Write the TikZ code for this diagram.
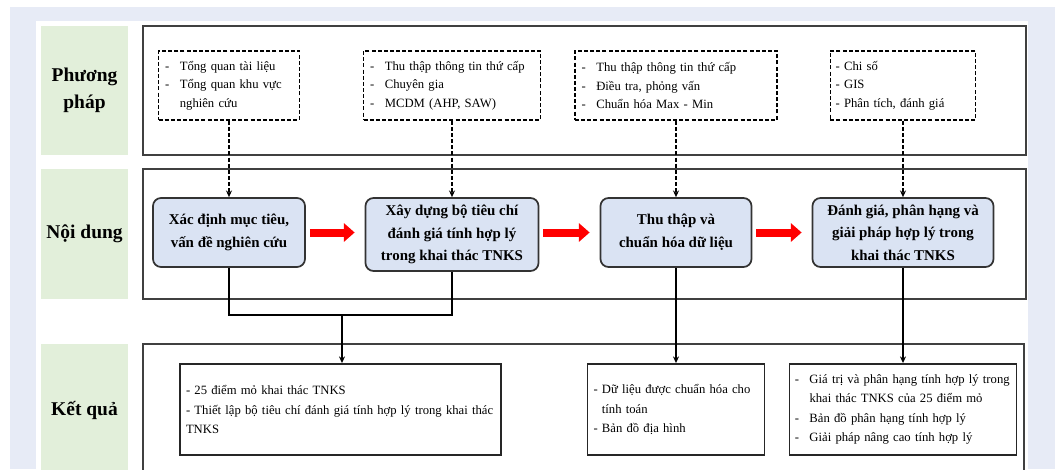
\documentclass[tikz,border=0pt]{standalone}
\usepackage{fontspec}
\setmainfont{Liberation Serif}
\usetikzlibrary{arrows.meta}
\definecolor{pagebg}{HTML}{E7EBF6}
\definecolor{labgreen}{HTML}{E2EFDA}
\definecolor{taskblue}{HTML}{DAE3F3}
\newcommand{\ditem}[1]{\mbox{\makebox[11pt][l]{-}#1}}
\newcommand{\dcont}[1]{\mbox{\hspace*{11pt}#1}}

\begin{document}
\begin{tikzpicture}[x=0.75pt, y=-0.75pt, >={Stealth[length=5pt,width=4.5pt]}, line join=miter,
  lab/.style={fill=labgreen, minimum width=65.25pt, align=center, font=\bfseries\fontsize{14.6}{20}\selectfont},
  row/.style={draw=black!75, line width=0.9pt},
  methbox/.style={draw, dash pattern=on 3pt off 1.6pt, line width=1.1pt, inner xsep=5pt, minimum height=51.75pt, align=left, font=\fontsize{9.5}{13.9}\selectfont},
  taskbox/.style={draw=black!80, line width=1.3pt, fill=taskblue, rounded corners=6pt, minimum height=51.75pt, inner ysep=2pt, align=center, font=\bfseries\fontsize{11.2}{17}\selectfont},
  resbox/.style={draw=black!85, line width=1.4pt, inner xsep=4.5pt, minimum height=68.25pt, align=left, font=\fontsize{9.5}{14.6}\selectfont},
  redarrow/.style={draw=red, line width=6pt, -{Triangle[length=8pt,width=13.5pt]}, shorten <=3pt, shorten >=7.5pt},
  dasharrow/.style={->, dash pattern=on 3pt off 1.6pt, line width=1.2pt},
  link/.style={line width=1.4pt}]
  \useasboundingbox (0,0) rectangle (1058,469);
  \clip (0,0) rectangle (1058,469);

  % Page
  \fill[pagebg] (10,7) rectangle (1055,469);
  \fill[white] (36,21) rectangle (1028,469);

  % Row labels
  \node[lab, minimum height=96.75pt] (labM) at (84.5,90.5) {Phương\\pháp};
  \node[lab, minimum height=97.5pt] (labN) at (84.5,234) {Nội dung};
  \node[lab, minimum height=99pt] (labK) at (84.5,410) {Kết quả};

  % Row frames
  \draw[row] (143,26) rectangle (1026,155);
  \draw[row] (143,169) rectangle (1026,299);
  \draw[row] (143,344) rectangle (1024,490);

  % Methods
  \node[methbox, text width=95.75pt] (meth1) at (229,85.5)
    {\ditem{Tổng quan tài liệu}\\\ditem{Tổng quan khu vực}\\\dcont{nghiên cứu}};
  \node[methbox, text width=122.75pt] (meth2) at (452,85.5)
    {\ditem{Thu thập thông tin thứ cấp}\\\ditem{Chuyên gia}\\\ditem{MCDM (AHP, SAW)}};
  \node[methbox, text width=141.5pt] (meth3) at (676,85.5)
    {\ditem{Thu thập thông tin thứ cấp}\\\ditem{Điều tra, phỏng vấn}\\\ditem{Chuẩn hóa Max - Min}};
  \node[methbox, text width=101pt, inner xsep=4pt] (meth4) at (903,85.5)
    {- Chi số\\- GIS\\- Phân tích, đánh giá};

  % Contents
  \node[taskbox, minimum width=114pt] (task1) at (229,232.5) {Xác định mục tiêu,\\vấn đề nghiên cứu};
  \node[taskbox, minimum width=129.75pt, minimum height=54.75pt] (task2) at (452,234.5)
    {Xây dựng bộ tiêu chí\\đánh giá tính hợp lý\\trong khai thác TNKS};
  \node[taskbox, minimum width=113.25pt] (task3) at (676,232.5) {Thu thập và\\chuẩn hóa dữ liệu};
  \node[taskbox, minimum width=135.75pt] (task4) at (903,232.5)
    {Đánh giá, phân hạng và\\giải pháp hợp lý trong\\khai thác TNKS};

  % Results
  \node[resbox, text width=231.75pt] (resA) at (340.5,409.5)
    {\mbox{- 25 điểm mỏ khai thác TNKS}\\\mbox{- Thiết lập bộ tiêu chí đánh giá tính hợp lý trong khai thác}\\TNKS};
  \node[resbox, text width=123.75pt] (resB) at (676,409.5)
    {\mbox{- Dữ liệu được chuẩn hóa cho}\\\mbox{\phantom{- }tính toán}\\\mbox{- Bản đồ địa hình}};
  \node[resbox, text width=162.25pt, inner xsep=4pt] (resC) at (903,409.5)
    {\ditem{Giá trị và phân hạng tính hợp lý trong}\\\dcont{khai thác TNKS của 25 điểm mỏ}\\\ditem{Bản đồ phân hạng tính hợp lý}\\\ditem{Giải pháp nâng cao tính hợp lý}};

  % Methods to contents
  \draw[dasharrow] (meth1.south) -- (meth1.south |- task1.north);
  \draw[dasharrow] (meth2.south) -- (meth2.south |- task2.north);
  \draw[dasharrow] (meth3.south) -- (meth3.south |- task3.north);
  \draw[dasharrow] (meth4.south) -- (meth4.south |- task4.north);

  % Flow
  \draw[redarrow] (task1.east) -- (task1.east -| task2.west);
  \draw[redarrow] (task2.east |- task1.east) -- (task1.east -| task3.west);
  \draw[redarrow] (task3.east) -- (task3.east -| task4.west);

  % Contents to results
  \coordinate (join) at (342,315);
  \draw[link] (task1.south) |- (join);
  \draw[link] (task2.south) |- (join);
  \draw[link, ->] (join) -- (join |- resA.north);
  \draw[link, ->] (task3.south) -- (resB.north);
  \draw[link, ->] (task4.south) -- (resC.north);
\end{tikzpicture}
\end{document}
